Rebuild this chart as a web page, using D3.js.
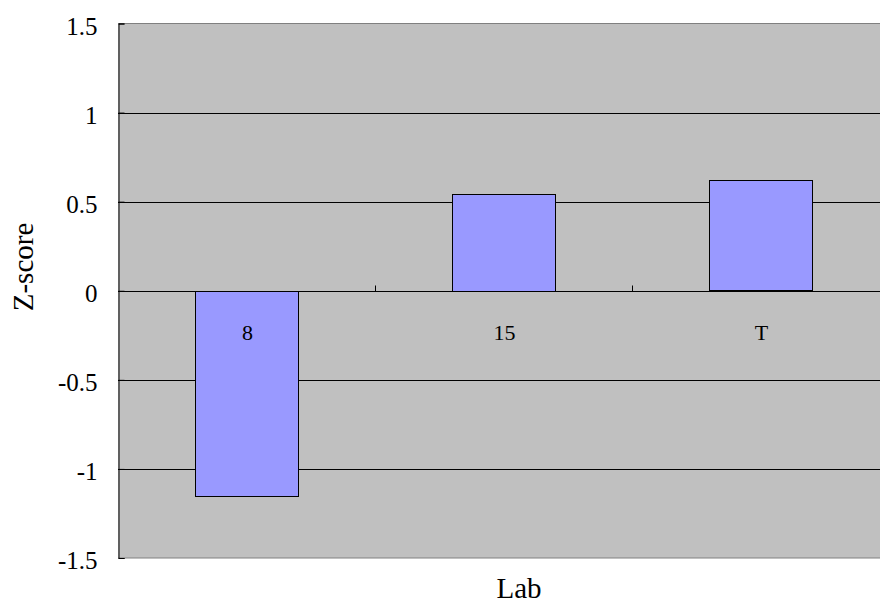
<!DOCTYPE html>
<html><head><meta charset="utf-8">
<script src="https://cdn.jsdelivr.net/npm/d3@7"></script>
<style>body{margin:0;background:#fff}svg{display:block}</style>
</head><body><svg id="c" width="880" height="604"></svg>
<script>
const categories = ["8", "15", "T"];
const zScores = [-1.15, 0.545, 0.62];
const yTicks = [-1.5, -1, -0.5, 0, 0.5, 1, 1.5];
const yTickLabels = ["-1.5", "-1", "-0.5", "0", "0.5", "1", "1.5"];
const xTitle = "Lab";
const yTitle = "Z-score";

const FONT = "'Liberation Serif', 'Times New Roman', Times, serif";
const svg = d3.select("#c");
const L = 118, R = 889, T = 23.5, B = 558;
const x = d3.scaleBand().domain(categories).range([L, R]).paddingInner(0.6).paddingOuter(0.3);
const xb = d3.scaleBand().domain(categories).range([L, R]);
const y = d3.scaleLinear().domain([-1.5, 1.5]).range([B, T]);

svg.append("rect").attr("x", L).attr("y", T).attr("width", R - L).attr("height", B - T).attr("fill", "#c0c0c0");
svg.append("g").selectAll("line").data(yTicks.filter(d => d !== 0 && d !== 1.5 && d !== -1.5)).join("line")
  .attr("x1", L).attr("x2", R).attr("y1", d => Math.round(y(d)) + 0.5).attr("y2", d => Math.round(y(d)) + 0.5)
  .attr("stroke", "#000").attr("stroke-width", 1);
svg.append("line").attr("x1", L).attr("x2", R).attr("y1", T).attr("y2", T).attr("stroke", "#808080").attr("stroke-width", 1);
svg.append("line").attr("x1", L).attr("x2", R).attr("y1", B).attr("y2", B).attr("stroke", "#808080").attr("stroke-width", 1);

svg.append("g").selectAll("rect").data(categories).join("rect")
  .attr("x", (d) => Math.round(x(d)) + 0.5)
  .attr("width", Math.round(x.bandwidth()))
  .attr("y", (d, i) => Math.round(y(Math.max(0, zScores[i]))) + 0.5)
  .attr("height", (d, i) => Math.round(Math.abs(y(zScores[i]) - y(0))))
  .attr("fill", "#9999ff").attr("stroke", "#000").attr("stroke-width", 1);

const yAxis = d3.axisLeft(y).tickValues(yTicks).tickFormat((d, i) => yTickLabels[i]).tickSize(-6).tickPadding(21);
const gy = svg.append("g").attr("transform", `translate(${L + 0.5},0)`).call(yAxis);
gy.attr("font-family", null).attr("font-size", null);
gy.select(".domain").attr("stroke", "#000");
gy.selectAll(".tick line").attr("stroke", "#000");
gy.selectAll("text").style("font-family", FONT).style("font-size", "25px").attr("dy", "0.42em");

const y0 = Math.round(y(0)) + 0.5;
svg.append("line").attr("x1", L).attr("x2", R).attr("y1", y0).attr("y2", y0).attr("stroke", "#000");
svg.append("g").selectAll("line").data(categories.slice(1)).join("line")
  .attr("x1", d => Math.round(xb(d)) + 0.5).attr("x2", d => Math.round(xb(d)) + 0.5)
  .attr("y1", y0).attr("y2", y0 - 6).attr("stroke", "#000");
svg.append("g").selectAll("text").data(categories).join("text")
  .attr("x", d => xb(d) + xb.bandwidth() / 2 + 1).attr("y", y0 + 48)
  .attr("text-anchor", "middle").style("font-family", FONT).style("font-size", "22px").text(d => d);

svg.append("text").attr("x", 519).attr("y", 597.5).attr("text-anchor", "middle").style("font-family", FONT).style("font-size", "29px").text(xTitle);
svg.append("text").attr("transform", "translate(33,267) rotate(-90)").attr("text-anchor", "middle").style("font-family", FONT).style("font-size", "29px").text(yTitle);
</script></body></html>
